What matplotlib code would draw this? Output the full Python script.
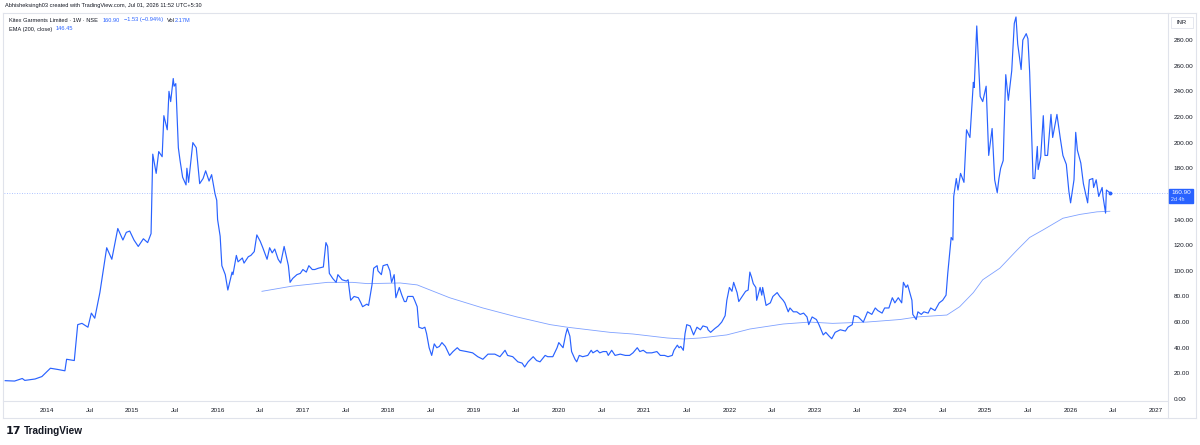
import matplotlib
matplotlib.use("Agg")
import matplotlib.pyplot as plt
from matplotlib.patches import Rectangle
from matplotlib.lines import Line2D

# ---------------- data (weekly close) ----------------
price_years = [
    2013.51, 2013.62, 2013.71, 2013.74, 2013.86, 2013.94, 2014.04, 2014.13, 2014.21, 2014.23,
    2014.32, 2014.36, 2014.41, 2014.48, 2014.52, 2014.56, 2014.62, 2014.70, 2014.76, 2014.83,
    2014.89, 2014.93, 2014.97, 2015.02, 2015.07, 2015.13, 2015.18, 2015.22, 2015.24, 2015.28,
    2015.31, 2015.35, 2015.37, 2015.41, 2015.43, 2015.45, 2015.48, 2015.49, 2015.51, 2015.54,
    2015.56, 2015.59, 2015.63, 2015.64, 2015.66, 2015.71, 2015.75, 2015.79, 2015.83, 2015.86,
    2015.90, 2015.93, 2015.97, 2015.99, 2016.00, 2016.03, 2016.05, 2016.09, 2016.12, 2016.17,
    2016.18, 2016.22, 2016.24, 2016.29, 2016.31, 2016.36, 2016.39, 2016.43, 2016.46, 2016.50,
    2016.53, 2016.58, 2016.61, 2016.64, 2016.67, 2016.71, 2016.74, 2016.78, 2016.83, 2016.85,
    2016.88, 2016.93, 2016.97, 2017.00, 2017.04, 2017.07, 2017.11, 2017.14, 2017.18, 2017.24,
    2017.27, 2017.29, 2017.31, 2017.35, 2017.39, 2017.41, 2017.46, 2017.51, 2017.53, 2017.56,
    2017.60, 2017.65, 2017.68, 2017.70, 2017.75, 2017.77, 2017.81, 2017.83, 2017.87, 2017.88,
    2017.92, 2017.94, 2017.99, 2018.02, 2018.04, 2018.07, 2018.09, 2018.13, 2018.16, 2018.19,
    2018.21, 2018.23, 2018.29, 2018.31, 2018.34, 2018.36, 2018.40, 2018.43, 2018.45, 2018.48,
    2018.51, 2018.54, 2018.57, 2018.60, 2018.63, 2018.67, 2018.72, 2018.76, 2018.81, 2018.84,
    2018.92, 2018.99, 2019.05, 2019.11, 2019.17, 2019.25, 2019.31, 2019.37, 2019.40, 2019.46,
    2019.52, 2019.57, 2019.60, 2019.64, 2019.70, 2019.74, 2019.78, 2019.84, 2019.87, 2019.93,
    2019.98, 2020.00, 2020.05, 2020.08, 2020.10, 2020.13, 2020.15, 2020.19, 2020.21, 2020.24,
    2020.28, 2020.34, 2020.38, 2020.40, 2020.45, 2020.48, 2020.52, 2020.56, 2020.58, 2020.62,
    2020.66, 2020.72, 2020.78, 2020.83, 2020.87, 2020.92, 2020.95, 2020.99, 2021.03, 2021.09,
    2021.15, 2021.19, 2021.24, 2021.28, 2021.33, 2021.35, 2021.39, 2021.41, 2021.43, 2021.46,
    2021.48, 2021.50, 2021.54, 2021.58, 2021.62, 2021.66, 2021.69, 2021.74, 2021.75, 2021.78,
    2021.83, 2021.87, 2021.91, 2021.95, 2021.97, 2022.00, 2022.03, 2022.05, 2022.09, 2022.11,
    2022.16, 2022.19, 2022.22, 2022.24, 2022.26, 2022.28, 2022.31, 2022.32, 2022.36, 2022.38,
    2022.39, 2022.43, 2022.48, 2022.51, 2022.56, 2022.59, 2022.63, 2022.65, 2022.69, 2022.71,
    2022.75, 2022.79, 2022.83, 2022.87, 2022.91, 2022.93, 2022.97, 2023.02, 2023.05, 2023.10,
    2023.13, 2023.17, 2023.20, 2023.24, 2023.30, 2023.36, 2023.39, 2023.44, 2023.46, 2023.51,
    2023.57, 2023.62, 2023.67, 2023.71, 2023.74, 2023.79, 2023.82, 2023.87, 2023.91, 2023.94,
    2023.98, 2024.02, 2024.04, 2024.07, 2024.09, 2024.14, 2024.15, 2024.19, 2024.21, 2024.25,
    2024.28, 2024.33, 2024.36, 2024.41, 2024.46, 2024.50, 2024.54, 2024.56, 2024.60, 2024.62,
    2024.63, 2024.66, 2024.68, 2024.71, 2024.75, 2024.78, 2024.82, 2024.86, 2024.87, 2024.90,
    2024.94, 2024.97, 2025.01, 2025.04, 2025.08, 2025.11, 2025.14, 2025.16, 2025.18, 2025.21,
    2025.22, 2025.24, 2025.27, 2025.31, 2025.34, 2025.36, 2025.38, 2025.42, 2025.44, 2025.48,
    2025.50, 2025.52, 2025.56, 2025.58, 2025.61, 2025.62, 2025.65, 2025.68, 2025.70, 2025.73,
    2025.77, 2025.79, 2025.84, 2025.88, 2025.91, 2025.95, 2025.98, 2026.00, 2026.04, 2026.06,
    2026.08, 2026.12, 2026.15, 2026.20, 2026.22, 2026.26, 2026.27, 2026.30, 2026.33, 2026.37,
    2026.38, 2026.41, 2026.42, 2026.44, 2026.46,
]
price_values = [
    14.3, 14.0, 16.0, 14.5, 15.6, 17.5, 24, 23, 22, 31,
    30, 58, 59, 56, 67, 63, 83, 118, 109, 133,
    124, 130, 131, 124, 119, 125, 122, 129, 191, 176,
    193, 189, 221, 210, 240, 232, 250, 244, 246, 196,
    186, 173, 167, 180, 169, 200, 196, 168, 172, 178,
    170, 175, 160, 155, 140, 127, 104, 97, 85, 99,
    97, 112, 107, 110, 106, 111, 112, 115, 128, 123,
    118, 109, 118, 114, 117, 109, 106, 119, 104, 91,
    94, 97, 98, 101, 99, 104, 101, 101, 102, 103,
    122, 119, 98, 94, 91, 97, 93, 92, 93, 77,
    80, 79, 75, 72, 74, 73, 89, 102, 104, 100,
    97, 104, 105, 100, 91, 97, 79, 87, 81, 76,
    76, 80, 80, 77, 72, 56, 55, 56, 51, 40,
    34, 43, 40, 41, 44, 41, 34, 37, 40, 38,
    37, 36, 33, 31, 35, 35, 33, 38, 34, 33,
    29, 28, 25, 29, 33, 30, 29, 34, 33, 33,
    40, 44, 40, 50, 55, 49, 37, 31, 29, 34,
    33, 34, 38, 36, 38, 36, 37, 37, 34, 38,
    34, 35, 34, 34, 36, 40, 37, 38, 36, 36,
    37, 34, 34, 33, 34, 38, 42, 40, 41, 38,
    51, 58, 57, 50, 56, 54, 57, 56, 54, 52,
    55, 57, 60, 65, 77, 87, 84, 91, 83, 76,
    81, 84, 85, 99, 95, 90, 87, 77, 87, 81,
    87, 73, 75, 80, 83, 80, 77, 75, 68, 71,
    68, 68, 66, 67, 64, 58, 64, 62, 58, 50,
    52, 49, 47, 52, 54, 53, 56, 58, 65, 64,
    60, 68, 66, 71, 69, 67, 71, 71, 79, 75,
    79, 75, 91, 87, 89, 77, 66, 62, 68, 66,
    68, 67, 71, 69, 75, 77, 81, 98, 126, 124,
    158, 172, 163, 176, 169, 210, 204, 247, 243, 291,
    236, 232, 244, 190, 211, 171, 161, 172, 180, 186,
    210, 253, 233, 256, 293, 298, 277, 257, 280, 285,
    281, 255, 172, 172, 197, 179, 189, 221, 190, 190,
    222, 204, 222, 203, 190, 183, 162, 153, 171, 208,
    194, 184, 168, 153, 171, 172, 165, 171, 158, 165,
    158, 145, 163, 162, 160.9,
]
ema_years = [
    2016.52, 2016.87, 2017.29, 2017.58, 2017.76, 2018.14, 2018.34, 2018.72, 2019.11, 2019.51,
    2019.90, 2020.10, 2020.60, 2020.87, 2021.27, 2021.46, 2021.66, 2021.97, 2022.24, 2022.63,
    2022.94, 2023.21, 2023.61, 2024.00, 2024.20, 2024.55, 2024.70, 2024.86, 2024.97, 2025.17,
    2025.37, 2025.52, 2025.68, 2025.91, 2026.11, 2026.31, 2026.46,
]
ema_values = [
    84, 88, 91, 91, 90, 90.5, 89, 79, 71, 64,
    58, 56, 52, 50.7, 47.6, 46.8, 47.6, 50, 54.6, 58.5,
    60, 59, 60, 62, 64, 65.5, 72, 83, 93, 102,
    116, 126, 132, 141, 144, 146, 146.45,
]
price_ticks = [0, 20, 40, 60, 80, 100, 120, 140, 180, 200, 220, 240, 260, 280]
last_price = 160.90
header_text = "Abhisheksingh03 created with TradingView.com, Jul 01, 2026 11:52 UTC+5:30"
title_text = "Kitex Garments Limited · 1W · NSE"
legend_values = ["160.90", "−1.53 (−0.94%)"]
vol_text = "2.17M"
ema_label = "EMA (200, close)"
ema_last = "146.45"

# ---------------- styling ----------------
W, H = 1200, 445
BLUE = "#2962FF"
TXT = "#131722"
GRID = "#e0e3eb"
plt.rcParams["font.family"] = ["Liberation Sans", "DejaVu Sans"]

fig = plt.figure(figsize=(W / 100, H / 100), dpi=100)
fig.patch.set_facecolor("white")

def fx(x):
    return x / W

def fy(y):
    return 1 - y / H

L, R, T, B = 4, 1168, 13, 401
ax = fig.add_axes([fx(L), fy(B), (R - L) / W, (B - T) / H])
ax.set_facecolor("white")

ax.plot(price_years, price_values, color=BLUE, lw=0.85, solid_joinstyle="round", zorder=3)
ax.plot(ema_years, ema_values, color=BLUE, lw=0.6, alpha=0.6, zorder=2)
ax.plot([price_years[-1]], [price_values[-1]], "o", color=BLUE, ms=1.8, zorder=4)
ax.axhline(last_price, color=BLUE, lw=0.6, ls=(0, (1, 2)), alpha=0.5, zorder=1)

ax.set_xlim(2013.496, 2027.142)
ax.set_ylim(-1.56, 301.1)

xt, xl = [], []
for y in range(2014, 2028):
    xt.append(y)
    xl.append(str(y))
    if y < 2027:
        xt.append(y + 0.5)
        xl.append("Jul")
ax.set_xticks(xt)
ax.set_xticklabels(xl)
ax.tick_params(axis="x", length=0, pad=5, labelsize=4.6, labelcolor=TXT)

ax.yaxis.tick_right()
ax.set_yticks(price_ticks)
ax.set_yticklabels([f"{v:.2f}" for v in price_ticks])
ax.tick_params(axis="y", length=0, pad=4, labelsize=4.6, labelcolor=TXT)

for s in ax.spines.values():
    s.set_visible(False)

# frame lines (TradingView pane borders)
def hline(y, x0, x1):
    fig.add_artist(Line2D([fx(x0), fx(x1)], [fy(y), fy(y)], color=GRID, lw=0.8))

def vline(x, y0, y1):
    fig.add_artist(Line2D([fx(x), fx(x)], [fy(y0), fy(y1)], color=GRID, lw=0.8))

hline(13, 3, 1196)
hline(418, 3, 1196)
hline(401, 3, 1168)
vline(3, 13, 418)
vline(1196, 13, 418)
vline(1168, 13, 418)

# last price label
fig.add_artist(Rectangle((fx(1169), fy(203)), fx(24), 14 / H, color=BLUE, transform=fig.transFigure, zorder=5))
fig.text(fx(1171), fy(192.5), "160.90", color="white", fontsize=4.6, va="center", ha="left", zorder=6)
fig.text(fx(1171), fy(199.5), "2d 4h", color="white", fontsize=3.9, va="center", ha="left", alpha=0.85, zorder=6)

# INR box
fig.add_artist(Rectangle((fx(1171), fy(28)), fx(22), 11 / H, facecolor="white", edgecolor=GRID,
                         lw=0.6, transform=fig.transFigure))
fig.text(fx(1182), fy(22.5), "INR", color=TXT, fontsize=4.2, va="center", ha="center")

# header
fig.text(fx(5), fy(6), header_text, color=TXT, fontsize=4.1, va="center", ha="left")

# legend, sequential coloured pieces
renderer = fig.canvas.get_renderer()

def seq(x, y, parts, size=4.1):
    cur = fx(x)
    for s, c, gap in parts:
        t = fig.text(cur, fy(y), s, color=c, fontsize=size, va="center", ha="left")
        bb = t.get_window_extent(renderer=renderer)
        cur += bb.width / W + gap / W

seq(9, 20, [(title_text, TXT, 4.5), (legend_values[0], BLUE, 4), (legend_values[1], BLUE, 4),
            ("Vol", TXT, 0.3), (vol_text, BLUE, 0)])
seq(9, 29, [(ema_label, TXT, 3.5), (ema_last, BLUE, 0)])

# TradingView logo
fig.text(fx(6), fy(431), "17", color=TXT, fontsize=8, fontweight="bold", va="center", ha="left",
         family=["DejaVu Sans"])
fig.text(fx(24), fy(431), "TradingView", color=TXT, fontsize=7.2, fontweight="bold", va="center", ha="left")

fig.savefig("out.png", dpi=100, facecolor="white")
